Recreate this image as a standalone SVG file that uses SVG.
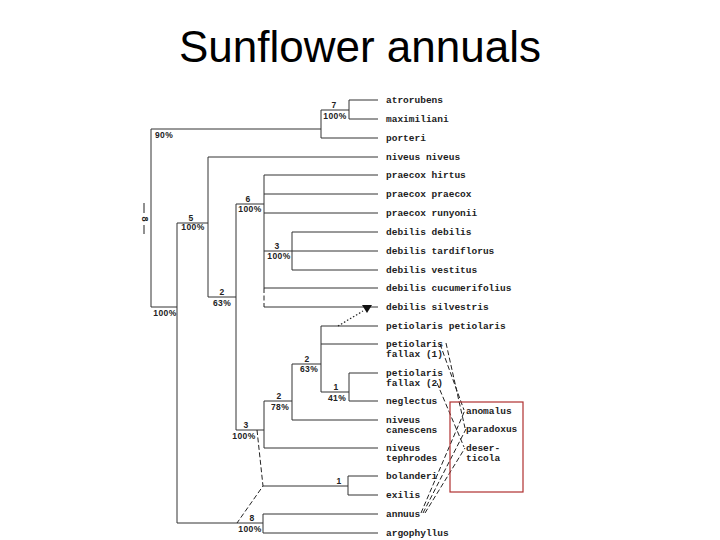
<svg xmlns="http://www.w3.org/2000/svg" width="720" height="540" viewBox="0 0 720 540">
<style>
.leaf{font-family:"Liberation Mono","DejaVu Sans Mono",monospace;font-weight:bold;font-size:9.5px;fill:#222}
.sup{font-family:"Liberation Sans",Arial,sans-serif;font-weight:bold;font-size:8.5px;fill:#222;text-anchor:middle;letter-spacing:0.4px}
.ln{fill:none;stroke:#333;stroke-width:1}
.dash{fill:none;stroke:#222;stroke-width:1;stroke-dasharray:5,2.5}
.dot{fill:none;stroke:#222;stroke-width:1.2;stroke-dasharray:1.5,2}
.title{font-family:"Liberation Sans",Arial,sans-serif;font-size:44px;fill:#000;text-anchor:middle}
</style>
<rect width="720" height="540" fill="#fff"/>
<text class="title" x="360" y="62">Sunflower annuals</text>

<g id="connectors">
<path class="ln" d="M151,129V307M151,129H321M151,307H177
M321,110V138M321,110H349M349,100V119M349,100H378M349,119H378M321,138H378
M177,223V523M177,223H208M177,523H263
M208,157V297M208,157H378M208,297H236
M236,204V430M236,204H264M236,430H264
M264,175V288M264,175H378M264,194H378M264,213H378M264,251H378
M292,232V270M292,232H378M292,270H378
M264,288H378M264,307H378
M264,401V448M264,401H292M264,448H378
M292,364V420M292,364H321M292,420H378
M321,326V392M321,326H378M321,344H378M321,392H349
M349,373V401M349,373H378M349,401H378
M263,486H348M348,476V495M348,476H378M348,495H378
M263,514V533M263,514H378M263,533H378"/>
<path class="dash" d="M264,288V307"/>
<path class="dash" d="M257,430L263,486L237,523"/>
<path class="dot" d="M338,326L363,311"/>
<polygon points="362,305 372,305 367,313" fill="#111"/>
<path class="dash" d="M440,344L464,410M446,343L465,428M437,383L464,447"/>
<path class="dash" d="M421,513L465,410M423,513L466,429M425,513L465,448"/>
<path fill="none" stroke="#222" stroke-width="1" d="M144,203V213M144,225V234"/>
<text x="144" y="219" transform="rotate(90 144 219)" style="font-family:'Liberation Sans',Arial,sans-serif;font-weight:bold;font-size:9px;fill:#222" text-anchor="middle" dominant-baseline="middle">8</text>
</g>

<g id="hybrid-box">
<rect x="450" y="402" width="73" height="90" fill="none" stroke="#b03030" stroke-width="1.2"/>
</g>

<g id="leaf-atrorubens"><text class="leaf" x="386" y="103">atrorubens</text></g>
<g id="leaf-maximiliani"><text class="leaf" x="386" y="122">maximiliani</text></g>
<g id="leaf-porteri"><text class="leaf" x="386" y="141">porteri</text></g>
<g id="leaf-niveus-niveus"><text class="leaf" x="386" y="160">niveus niveus</text></g>
<g id="leaf-praecox-hirtus"><text class="leaf" x="386" y="178">praecox hirtus</text></g>
<g id="leaf-praecox-praecox"><text class="leaf" x="386" y="197">praecox praecox</text></g>
<g id="leaf-praecox-runyonii"><text class="leaf" x="386" y="216">praecox runyonii</text></g>
<g id="leaf-debilis-debilis"><text class="leaf" x="386" y="235">debilis debilis</text></g>
<g id="leaf-debilis-tardiflorus"><text class="leaf" x="386" y="254">debilis tardiflorus</text></g>
<g id="leaf-debilis-vestitus"><text class="leaf" x="386" y="273">debilis vestitus</text></g>
<g id="leaf-debilis-cucumerifolius"><text class="leaf" x="386" y="291">debilis cucumerifolius</text></g>
<g id="leaf-debilis-silvestris"><text class="leaf" x="386" y="310">debilis silvestris</text></g>
<g id="leaf-petiolaris-petiolaris"><text class="leaf" x="386" y="329">petiolaris petiolaris</text></g>
<g id="leaf-petiolaris-fallax-1"><text class="leaf" x="386" y="347">petiolaris</text><text class="leaf" x="386" y="357">fallax (1)</text></g>
<g id="leaf-petiolaris-fallax-2"><text class="leaf" x="386" y="376">petiolaris</text><text class="leaf" x="386" y="386">fallax (2)</text></g>
<g id="leaf-neglectus"><text class="leaf" x="386" y="404">neglectus</text></g>
<g id="leaf-niveus-canescens"><text class="leaf" x="386" y="423">niveus</text><text class="leaf" x="386" y="433">canescens</text></g>
<g id="leaf-niveus-tephrodes"><text class="leaf" x="386" y="451">niveus</text><text class="leaf" x="386" y="461">tephrodes</text></g>
<g id="leaf-bolanderi"><text class="leaf" x="386" y="479">bolanderi</text></g>
<g id="leaf-exilis"><text class="leaf" x="386" y="498">exilis</text></g>
<g id="leaf-annuus"><text class="leaf" x="386" y="517">annuus</text></g>
<g id="leaf-argophyllus"><text class="leaf" x="386" y="536">argophyllus</text></g>

<g id="hybrid-anomalus"><text class="leaf" x="466" y="414">anomalus</text></g>
<g id="hybrid-paradoxus"><text class="leaf" x="466" y="432">paradoxus</text></g>
<g id="hybrid-deserticola"><text class="leaf" x="466" y="451">deser-</text><text class="leaf" x="466" y="461">ticola</text></g>

<g id="node-root"><text class="sup" x="164" y="138">90%</text><text class="sup" x="165" y="316">100%</text></g>
<g id="node-7"><text class="sup" x="334" y="108">7</text><text class="sup" x="335" y="118.5">100%</text></g>
<g id="node-5"><text class="sup" x="191" y="221">5</text><text class="sup" x="193" y="230">100%</text></g>
<g id="node-2a"><text class="sup" x="222" y="295">2</text><text class="sup" x="222" y="306">63%</text></g>
<g id="node-6"><text class="sup" x="248" y="202">6</text><text class="sup" x="250" y="212">100%</text></g>
<g id="node-3a"><text class="sup" x="277" y="249">3</text><text class="sup" x="279" y="259">100%</text></g>
<g id="node-2b"><text class="sup" x="307" y="362">2</text><text class="sup" x="309" y="372">63%</text></g>
<g id="node-1a"><text class="sup" x="336" y="390">1</text><text class="sup" x="337" y="400.5">41%</text></g>
<g id="node-2c"><text class="sup" x="279" y="399">2</text><text class="sup" x="280" y="409.5">78%</text></g>
<g id="node-3b"><text class="sup" x="246" y="428">3</text><text class="sup" x="244" y="438.5">100%</text></g>
<g id="node-1b"><text class="sup" x="339" y="484">1</text></g>
<g id="node-8"><text class="sup" x="252" y="521">8</text><text class="sup" x="250" y="531.5">100%</text></g>
</svg>
